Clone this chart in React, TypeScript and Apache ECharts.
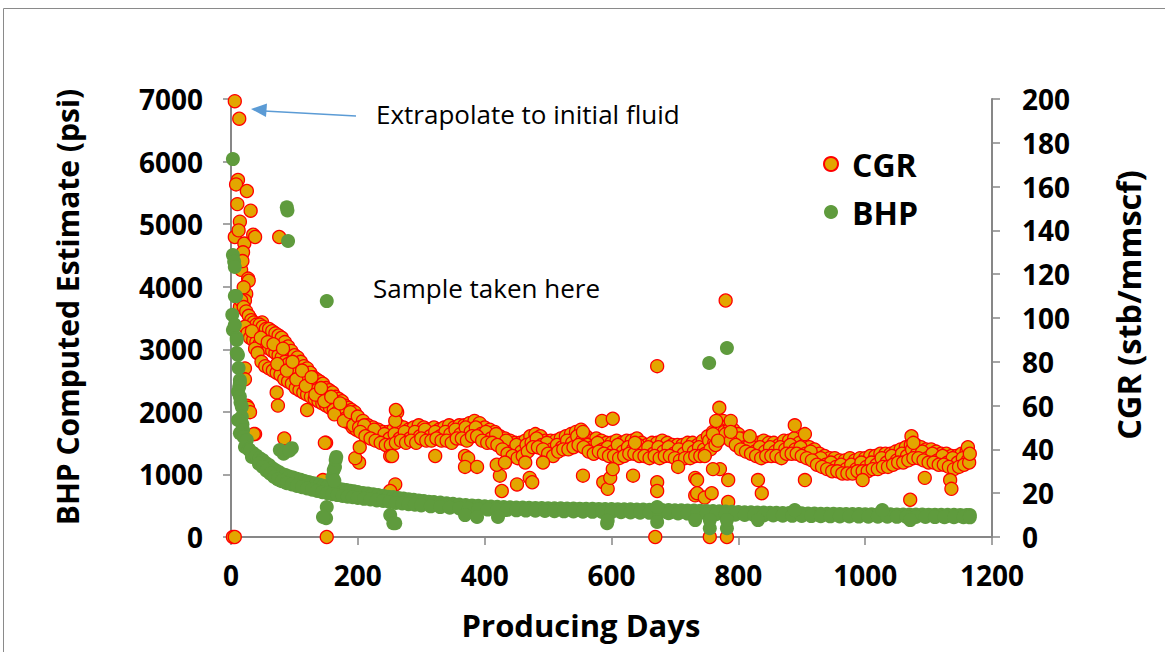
import React, { useEffect, useRef } from "react";
import * as echarts from "echarts";

// ---- Data: CGR (stb/mmscf, right axis) as [producing day, CGR] ----
const cgrInitial: number[][] = [
  [6, 199], [13, 191], [11, 163], [8, 161], [25, 158], [31, 149], [14, 144], [6, 137], [21, 134],
  [35, 138], [38, 137], [19, 130], [16, 122], [27, 118], [28, 117], [24, 111], [14, 105], [30, 100],
  [49, 98], [10, 152], [12, 140], [18, 126], [20, 114], [22, 108], [76, 137],
];
const cgrCloudUpper: number[][] = [
  [16, 108], [20, 105], [24, 103], [28, 101], [32, 99], [36, 98], [40, 97], [45, 97], [50, 96], [55, 95],
  [60, 95], [65, 94], [70, 93], [75, 92], [80, 91], [85, 89], [90, 87], [95, 85], [100, 83], [105, 82],
  [110, 80], [115, 78], [120, 77], [125, 75], [130, 73], [135, 72], [140, 71], [145, 70], [150, 68],
  [155, 67], [160, 66], [165, 64], [170, 63], [175, 62], [180, 60], [185, 59], [190, 58], [195, 57],
];
const cgrCloudMid: number[][] = [
  [22, 96], [26, 93], [30, 91], [35, 90], [40, 89], [45, 88], [50, 87], [55, 87], [60, 86], [65, 85],
  [70, 84], [75, 83], [80, 82], [85, 80], [90, 79], [95, 77], [100, 76], [105, 75], [110, 73], [115, 72],
  [120, 71], [125, 70], [130, 68], [135, 67], [140, 66], [145, 65], [150, 63], [155, 62], [160, 61],
  [165, 60], [170, 59], [175, 57], [180, 56], [185, 55], [190, 54], [195, 53],
];
const cgrCloudLower: number[][] = [
  [38, 86], [42, 84], [48, 80], [54, 78], [60, 77], [66, 76], [72, 75], [78, 74], [84, 72], [90, 71],
  [96, 70], [102, 68], [108, 67], [114, 66], [120, 65], [126, 64], [132, 63], [138, 62], [144, 61],
  [150, 60], [156, 59], [162, 58], [168, 57], [174, 56], [180, 54], [186, 52], [192, 50], [198, 49],
];
const cgrCloudScatter: number[][] = [
  [33, 94], [47, 91], [58, 89], [67, 88], [73, 79], [82, 86], [88, 76], [97, 80], [103, 72], [112, 76],
  [118, 69], [127, 73], [133, 65], [142, 68], [147, 62], [158, 64], [163, 56], [172, 61], [178, 53],
  [188, 57], [193, 51],
];
const cgrBandUpper: number[][] = [
  [200, 55], [208, 53], [216, 51], [224, 50], [232, 49], [240, 48], [248, 48], [256, 49], [264, 51], [272, 50],
  [280, 49], [288, 50], [296, 51], [304, 50], [312, 49], [320, 50], [328, 49], [336, 50], [344, 51], [352, 50],
  [360, 51], [368, 51], [376, 52], [384, 53], [392, 52], [400, 50], [408, 49], [416, 48], [424, 46], [432, 45],
  [440, 44], [448, 43], [456, 43], [464, 44], [472, 46], [480, 47], [488, 46], [496, 44], [504, 44], [512, 44],
  [520, 45], [528, 46], [536, 47], [544, 48], [552, 49], [560, 46], [568, 44], [576, 45], [584, 44], [592, 43],
  [600, 43], [608, 44], [616, 43], [624, 44], [632, 44], [640, 45], [648, 43], [656, 42], [664, 43], [672, 43],
  [680, 44], [688, 43], [696, 42], [704, 42], [712, 42], [720, 43], [728, 43], [736, 42], [744, 44], [752, 46],
  [760, 48], [768, 52], [776, 53], [784, 51], [792, 49], [800, 47], [808, 45], [816, 44], [824, 43], [832, 43],
  [840, 44], [848, 43], [856, 43], [864, 42], [872, 44], [880, 44], [888, 45], [896, 43], [904, 42], [912, 41],
  [920, 40], [928, 38], [936, 37], [944, 36], [952, 36], [960, 35], [968, 35], [976, 36], [984, 35], [992, 36],
  [1000, 36], [1008, 37], [1016, 37], [1024, 38], [1032, 38], [1040, 38], [1048, 39], [1056, 40], [1064, 41],
  [1072, 42], [1080, 42], [1088, 41], [1096, 40], [1104, 40], [1112, 39], [1120, 38], [1128, 38], [1136, 37],
  [1144, 37], [1152, 38], [1160, 39],
];
const cgrBandMid: number[][] = [
  [202, 50], [210, 51], [218, 46], [226, 49], [234, 44], [242, 47], [250, 45], [258, 47], [266, 45], [274, 48],
  [282, 45], [290, 48], [298, 46], [306, 49], [314, 46], [322, 48], [330, 46], [338, 48], [346, 47], [354, 49],
  [362, 47], [370, 50], [378, 48], [386, 50], [394, 47], [402, 48], [410, 45], [418, 47], [426, 42], [434, 44],
  [442, 39], [450, 42], [458, 39], [466, 42], [474, 43], [482, 45], [490, 42], [498, 43], [506, 40], [514, 42],
  [522, 41], [530, 44], [538, 43], [546, 46], [554, 44], [562, 42], [570, 41], [578, 43], [586, 40], [594, 41],
  [602, 39], [610, 42], [618, 39], [626, 41], [634, 40], [642, 42], [650, 39], [658, 41], [666, 38], [674, 41],
  [682, 39], [690, 41], [698, 38], [706, 40], [714, 38], [722, 41], [730, 39], [738, 41], [746, 40], [754, 44],
  [762, 43], [770, 49], [778, 48], [786, 49], [794, 44], [802, 45], [810, 41], [818, 42], [826, 39], [834, 41],
  [842, 39], [850, 41], [858, 39], [866, 41], [874, 40], [882, 42], [890, 40], [898, 41], [906, 38], [914, 39],
  [922, 35], [930, 36], [938, 33], [946, 34], [954, 32], [962, 33], [970, 31], [978, 33], [986, 31], [994, 34],
  [1002, 32], [1010, 34], [1018, 33], [1026, 36], [1034, 34], [1042, 37], [1050, 35], [1058, 38], [1066, 37],
  [1074, 40], [1082, 38], [1090, 39], [1098, 36], [1106, 38], [1114, 35], [1122, 37], [1130, 34], [1138, 36],
  [1146, 34], [1154, 36], [1162, 35],
];
const cgrBandLower: number[][] = [
  [204, 48], [212, 46], [220, 45], [228, 44], [236, 43], [244, 42], [252, 42], [260, 43], [268, 44], [276, 43],
  [284, 44], [292, 43], [300, 45], [308, 44], [316, 44], [324, 45], [332, 44], [340, 44], [348, 43], [356, 45],
  [364, 45], [372, 44], [380, 46], [388, 46], [396, 44], [404, 43], [412, 43], [420, 42], [428, 40], [436, 38],
  [444, 37], [452, 36], [460, 37], [468, 39], [476, 41], [484, 41], [492, 40], [500, 38], [508, 37], [516, 39],
  [524, 40], [532, 40], [540, 41], [548, 42], [556, 41], [564, 39], [572, 38], [580, 39], [588, 38], [596, 37],
  [604, 37], [612, 36], [620, 37], [628, 38], [636, 38], [644, 37], [652, 37], [660, 36], [668, 37], [676, 36],
  [684, 37], [692, 37], [700, 36], [708, 35], [716, 36], [724, 36], [732, 37], [740, 37], [748, 38], [756, 40],
  [764, 42], [772, 45], [780, 47], [788, 44], [796, 42], [804, 40], [812, 39], [820, 38], [828, 37], [836, 36],
  [844, 37], [852, 37], [860, 37], [868, 36], [876, 38], [884, 38], [892, 38], [900, 37], [908, 36], [916, 35],
  [924, 33], [932, 32], [940, 31], [948, 30], [956, 30], [964, 29], [972, 29], [980, 29], [988, 30], [996, 30],
  [1004, 30], [1012, 31], [1020, 31], [1028, 32], [1036, 32], [1044, 33], [1052, 34], [1060, 34], [1068, 35],
  [1076, 36], [1084, 36], [1092, 35], [1100, 34], [1108, 34], [1116, 33], [1124, 33], [1132, 32], [1140, 31],
  [1148, 32], [1156, 33], [1164, 34],
];
const cgrOutliers: number[][] = [
  [22, 77], [22, 72], [25, 60], [27, 59], [30, 57], [38, 47], [36, 47], [72, 66], [74, 60], [120, 58],
  [84, 45], [150, 43], [145, 26], [151, 0], [3, 0], [6, 0], [202, 34], [196, 36], [203, 41], [148, 43],
  [251, 37], [259, 24], [251, 21], [262, 57], [259, 53], [254, 37], [260, 58], [322, 37], [369, 37], [374, 36],
  [369, 32], [388, 32], [424, 28], [427, 21], [451, 24], [471, 27], [475, 25], [419, 33], [432, 34], [464, 34],
  [492, 34], [555, 28], [555, 48], [585, 53], [602, 54], [587, 25], [594, 22], [598, 27], [602, 31], [634, 28],
  [637, 43], [672, 25], [672, 21], [669, 0], [672, 78], [705, 32], [732, 27], [732, 19], [780, 108], [770, 59],
  [765, 53], [788, 53], [788, 48], [760, 47], [768, 44], [818, 46], [889, 51], [905, 47], [747, 37], [771, 31],
  [760, 31], [784, 26], [735, 26], [735, 20], [747, 18], [758, 20], [784, 16], [831, 26], [837, 20], [905, 26],
  [755, 0], [782, 0], [1071, 17], [1073, 46], [1076, 43], [1094, 27], [1134, 26], [1136, 22], [1162, 41],
  [1165, 38], [996, 26],
];

// ---- Data: BHP (psi, left axis) as [producing day, BHP] ----
const bhpEarly: number[][] = [
  [3, 6040], [3, 4505], [5, 4400], [6, 4315], [6, 3850], [8, 3850], [2, 3550], [3, 3310], [6, 3390], [9, 3180],
  [9, 3150], [9, 2940], [11, 2910], [12, 2700], [14, 2510], [14, 2460], [13, 2400], [11, 2320], [14, 2240],
  [15, 2150], [17, 2080], [17, 1920], [11, 1870], [18, 1800], [19, 1710], [14, 1660], [20, 1600], [25, 1550],
  [22, 1440], [28, 1400], [35, 1340], [33, 1280], [30, 1380], [38, 1300],
];
const bhpUpper: number[][] = [
  [40, 1300], [45, 1260], [50, 1230], [55, 1180], [60, 1150], [65, 1100], [70, 1070], [75, 1040], [80, 1010],
  [86, 990], [92, 965], [98, 950], [104, 930], [110, 915], [116, 895], [122, 880], [128, 865], [134, 850],
  [140, 835], [146, 820], [152, 805], [158, 795], [164, 780], [170, 770], [176, 760], [182, 750], [188, 740],
  [194, 730], [200, 720], [208, 705], [216, 695], [224, 685], [232, 670], [240, 660], [248, 645], [256, 640],
  [264, 625], [272, 615], [280, 605], [288, 595], [296, 585], [304, 575], [312, 565], [320, 560], [330, 550],
  [340, 540], [350, 530], [360, 520], [370, 512], [380, 505], [390, 498], [400, 490], [410, 486], [420, 482],
  [430, 478], [440, 475], [450, 472], [460, 470], [470, 468], [480, 465], [490, 463], [500, 461], [510, 460],
  [520, 458], [530, 456], [540, 455], [550, 453], [560, 452], [570, 450], [580, 449], [590, 447], [600, 446],
  [610, 445], [620, 443], [630, 442], [640, 440], [650, 438], [660, 436], [670, 434], [680, 432], [690, 430],
  [700, 428], [710, 426], [720, 424], [730, 422], [740, 420], [750, 417], [760, 414], [770, 410], [780, 406],
  [790, 402], [800, 398], [810, 396], [820, 394], [830, 392], [840, 390], [850, 388], [860, 386], [870, 384],
  [880, 382], [890, 380], [900, 378], [910, 376], [920, 374], [930, 372], [940, 371], [950, 370], [960, 369],
  [970, 368], [980, 367], [990, 366], [1000, 365], [1010, 364], [1020, 363], [1030, 362], [1040, 362],
  [1050, 361], [1060, 360], [1070, 360], [1080, 359], [1090, 358], [1100, 357], [1110, 357], [1120, 356],
  [1130, 355], [1140, 354], [1150, 353], [1160, 352], [1165, 352],
];
const bhpLower: number[][] = [
  [44, 1170], [50, 1120], [56, 1060], [62, 1010], [68, 960], [74, 920], [80, 890], [88, 860], [96, 840],
  [104, 815], [112, 795], [120, 775], [128, 755], [136, 735], [144, 715], [152, 700], [160, 685], [168, 670],
  [176, 655], [184, 645], [192, 635], [200, 625], [210, 610], [220, 600], [230, 585], [240, 575], [250, 560],
  [260, 545], [270, 535], [280, 525], [290, 515], [300, 505], [315, 490], [330, 478], [345, 468], [360, 458],
  [375, 450], [390, 444], [405, 438], [420, 434], [435, 430], [450, 426], [465, 422], [480, 419], [495, 416],
  [510, 413], [525, 410], [540, 408], [555, 405], [570, 402], [585, 400], [600, 398], [615, 395], [630, 392],
  [645, 389], [660, 386], [675, 383], [690, 380], [705, 377], [720, 374], [735, 370], [750, 367], [765, 364],
  [780, 360], [795, 356], [810, 352], [825, 349], [840, 346], [855, 343], [870, 340], [885, 338], [900, 336],
  [915, 334], [930, 332], [945, 330], [960, 328], [975, 327], [990, 326], [1005, 325], [1020, 324], [1035, 323],
  [1050, 322], [1065, 321], [1080, 320], [1095, 319], [1110, 318], [1125, 317], [1140, 316], [1155, 315],
  [1165, 314],
];
const bhpOutliers: number[][] = [
  [88, 5270], [89, 5220], [90, 4730], [151, 3770], [754, 2780], [782, 3020], [77, 1390], [83, 1330], [96, 1420],
  [92, 1380], [160, 960], [162, 1070], [164, 1120], [165, 1230], [166, 1280], [163, 900], [151, 480], [150, 300],
  [145, 320], [251, 350], [256, 220], [259, 220], [369, 350], [388, 320], [421, 320], [593, 220], [594, 260],
  [672, 240], [672, 480], [755, 140], [782, 140], [755, 270], [732, 270], [782, 270], [831, 270], [1071, 270],
  [889, 430], [1027, 430],
];

const xTicks = { min: 0, max: 1200, interval: 200 };
const bhpTicks = { min: 0, max: 7000, interval: 1000 };
const cgrTicks = { min: 0, max: 200, interval: 20 };

const FONT = "'Open Sans', 'Noto Sans', sans-serif";
const AXIS_COLOR = "#878787";

export default function App() {
  const ref = useRef<HTMLDivElement>(null);

  useEffect(() => {
    if (!ref.current) return;
    const chart = echarts.init(ref.current, null, { renderer: "svg" });

    const axisCommon = {
      axisLine: { show: true, lineStyle: { color: AXIS_COLOR, width: 2 } },
      axisTick: { show: true, length: 8, lineStyle: { color: AXIS_COLOR, width: 1.5 } },
      splitLine: { show: false },
      axisLabel: {
        color: "#000",
        fontSize: 28,
        fontWeight: "bold",
        fontFamily: FONT,
        formatter: (v: number) => String(v),
      },
    };

    const titleStyle = { fill: "#000", fontWeight: "bold", fontFamily: FONT, align: "center", verticalAlign: "middle" };

    chart.setOption({
      animation: false,
      backgroundColor: "#fff",
      grid: { left: 231, right: 173, top: 99, bottom: 115, containLabel: false },
      xAxis: {
        type: "value",
        ...xTicks,
        ...axisCommon,
        axisLabel: { ...axisCommon.axisLabel, margin: 24 },
      },
      yAxis: [
        {
          type: "value",
          position: "left",
          ...bhpTicks,
          ...axisCommon,
          axisLabel: { ...axisCommon.axisLabel, margin: 28 },
        },
        {
          type: "value",
          position: "right",
          ...cgrTicks,
          ...axisCommon,
          axisLabel: { ...axisCommon.axisLabel, margin: 30 },
        },
      ],
      legend: {
        orient: "vertical",
        left: 818,
        top: 142,
        itemWidth: 14,
        itemHeight: 14,
        itemGap: 14,
        icon: "circle",
        data: ["CGR", "BHP"],
        textStyle: {
          color: "#000",
          fontSize: 32,
          fontWeight: "bold",
          fontFamily: FONT,
          lineHeight: 34,
          padding: [0, 0, 0, 9],
        },
      },
      graphic: [
        {
          type: "rect",
          silent: true,
          shape: { x: 3.5, y: 8.5, width: 1300, height: 800 },
          style: { fill: "none", stroke: "#8a8a8a", lineWidth: 1 },
          z: 100,
        },
        {
          type: "line",
          silent: true,
          shape: { x1: 356, y1: 116, x2: 264, y2: 111 },
          style: { stroke: "#5B9BD5", lineWidth: 1.5 },
          z: 100,
        },
        {
          type: "polygon",
          silent: true,
          shape: { points: [[251, 109], [267, 103.5], [266, 117]] },
          style: { fill: "#5B9BD5" },
          z: 100,
        },
        {
          type: "text",
          silent: true,
          x: 376,
          y: 114,
          style: { text: "Extrapolate to initial fluid", fontSize: 26, fontFamily: FONT, fill: "#000", verticalAlign: "middle", align: "left" },
          z: 100,
        },
        {
          type: "text",
          silent: true,
          x: 373,
          y: 288,
          style: { text: "Sample taken here", fontSize: 26, fontFamily: FONT, fill: "#000", verticalAlign: "middle", align: "left" },
          z: 100,
        },
        {
          type: "text",
          silent: true,
          x: 581,
          y: 625,
          style: { ...titleStyle, text: "Producing Days", fontSize: 31 },
          z: 100,
        },
        {
          type: "text",
          silent: true,
          x: 67,
          y: 307,
          rotation: Math.PI / 2,
          style: { ...titleStyle, text: "BHP Computed Estimate (psi)", fontSize: 30 },
          z: 100,
        },
        {
          type: "text",
          silent: true,
          x: 1128,
          y: 305,
          rotation: Math.PI / 2,
          style: { ...titleStyle, text: "CGR (stb/mmscf)", fontSize: 32.5 },
          z: 100,
        },
      ],
      series: [
        {
          name: "CGR",
          type: "scatter",
          yAxisIndex: 1,
          symbol: "circle",
          symbolSize: 13,
          itemStyle: { color: "#E3A600", borderColor: "#FF0000", borderWidth: 1.3, opacity: 1 },
          data: [
            ...cgrInitial,
            ...cgrCloudUpper,
            ...cgrCloudMid,
            ...cgrCloudLower,
            ...cgrCloudScatter,
            ...cgrBandUpper,
            ...cgrBandMid,
            ...cgrBandLower,
            ...cgrOutliers,
          ],
        },
        {
          name: "BHP",
          type: "scatter",
          yAxisIndex: 0,
          symbol: "circle",
          symbolSize: 14,
          itemStyle: { color: "#5F9B3D", opacity: 1 },
          data: [...bhpEarly, ...bhpUpper, ...bhpLower, ...bhpOutliers],
        },
      ],
    });

    return () => chart.dispose();
  }, []);

  return (
    <div
      ref={ref}
      style={{ position: "fixed", left: 0, top: 0, width: 1165, height: 652, background: "#fff" }}
    />
  );
}
